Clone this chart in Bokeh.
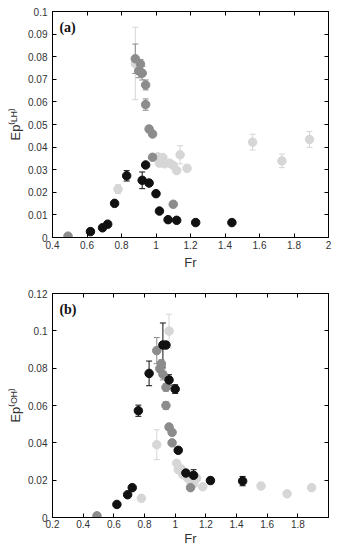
from bokeh.plotting import figure
from bokeh.models import (ColumnDataSource, Whisker, TeeHead, LinearAxis, FixedTicker,
                          Label, CustomLabelingPolicy)
from bokeh.layouts import column
from bokeh.embed import file_html
from bokeh.resources import INLINE

# ---- Panel (a): Ep(LH) against Froude number ----
a_black_x = [0.62, 0.69, 0.72, 0.76, 0.83, 0.92, 0.94, 0.96, 1.00, 1.02, 1.07, 1.12, 1.23, 1.44]
a_black_y = [0.0026, 0.0043, 0.0059, 0.0151, 0.0273, 0.0253, 0.0321, 0.0241, 0.0194, 0.0117, 0.0079, 0.0076, 0.0066, 0.0066]
a_black_e = [0.0003, 0.0004, 0.0004, 0.0006, 0.0023, 0.0037, 0.0008, 0.0006, 0.0005, 0.0004, 0.0003, 0.0003, 0.0003, 0.0004]

a_dark_x = [0.49, 0.88, 0.90, 0.91, 0.92, 0.94, 0.94, 0.96, 0.98, 0.98, 1.10]
a_dark_y = [0.0006, 0.0791, 0.0737, 0.0768, 0.0727, 0.0675, 0.0588, 0.0480, 0.0458, 0.0355, 0.0147]
a_dark_e = [0.0003, 0.0065, 0.0030, 0.0020, 0.0030, 0.0022, 0.0025, 0.0015, 0.0012, 0.0010, 0.0005]

a_light_x = [0.78, 0.88, 1.01, 1.02, 1.04, 1.05, 1.08, 1.10, 1.12, 1.14, 1.18, 1.56, 1.73, 1.89]
a_light_y = [0.0214, 0.0770, 0.0357, 0.0329, 0.0354, 0.0326, 0.0329, 0.0319, 0.0296, 0.0366, 0.0306, 0.0422, 0.0339, 0.0434]
a_light_e = [0.0020, 0.0160, 0.0008, 0.0008, 0.0008, 0.0006, 0.0006, 0.0006, 0.0006, 0.0040, 0.0015, 0.0035, 0.0030, 0.0035]

a_xticks = [0.4, 0.6, 0.8, 1.0, 1.2, 1.4, 1.6, 1.8, 2.0]
a_xlabels = ["0.4", "0.6", "0.8", "1", "1.2", "1.4", "1.6", "1.8", "2"]
a_yticks = [0.0, 0.01, 0.02, 0.03, 0.04, 0.05, 0.06, 0.07, 0.08, 0.09, 0.1]
a_ylabels = ["0", "0.01", "0.02", "0.03", "0.04", "0.05", "0.06", "0.07", "0.08", "0.09", "0.1"]

# ---- Panel (b): Ep(OH) against Froude number ----
b_black_x = [0.62, 0.69, 0.72, 0.76, 0.83, 0.92, 0.94, 0.96, 1.00, 1.02, 1.07, 1.12, 1.23, 1.44]
b_black_y = [0.0070, 0.0122, 0.0160, 0.0572, 0.0772, 0.0924, 0.0924, 0.0737, 0.0688, 0.0360, 0.0238, 0.0226, 0.0198, 0.0195]
b_black_e = [0.0006, 0.0008, 0.0015, 0.0030, 0.0066, 0.0118, 0.0010, 0.0028, 0.0023, 0.0012, 0.0008, 0.0030, 0.0017, 0.0025]

b_dark_x = [0.49, 0.88, 0.90, 0.91, 0.92, 0.94, 0.94, 0.96, 0.98, 0.98, 1.10]
b_dark_y = [0.0009, 0.0894, 0.0798, 0.0824, 0.0767, 0.0697, 0.0600, 0.0485, 0.0456, 0.0400, 0.0160]
b_dark_e = [0.0003, 0.0070, 0.0020, 0.0020, 0.0030, 0.0020, 0.0020, 0.0010, 0.0010, 0.0010, 0.0006]

b_light_x = [0.78, 0.88, 0.96, 1.01, 1.02, 1.04, 1.05, 1.08, 1.10, 1.12, 1.14, 1.18, 1.56, 1.73, 1.89]
b_light_y = [0.0103, 0.0390, 0.0999, 0.0290, 0.0256, 0.0260, 0.0230, 0.0212, 0.0195, 0.0180, 0.0210, 0.0165, 0.0169, 0.0127, 0.0160]
b_light_e = [0.0008, 0.0080, 0.0090, 0.0010, 0.0010, 0.0010, 0.0010, 0.0010, 0.0010, 0.0010, 0.0015, 0.0010, 0.0010, 0.0008, 0.0008]

b_xticks = [0.2, 0.4, 0.6, 0.8, 1.0, 1.2, 1.4, 1.6, 1.8]
b_xlabels = ["0.2", "0.4", "0.6", "0.8", "1", "1.2", "1.4", "1.6", "1.8"]
b_yticks = [0.0, 0.02, 0.04, 0.06, 0.08, 0.1, 0.12]
b_ylabels = ["0", "0.02", "0.04", "0.06", "0.08", "0.1", "0.12"]

SANS = "Liberation Sans"
SERIF = "Liberation Serif"
BLACK = "#111111"
DARK = "#8c8c8c"
LIGHT = "#d6d6d6"

# the mirrored top/right axes carry tick marks only
NO_LABELS = "return new Set()"


def style_axis(ax, ticks, labels, show_labels, label_standoff=3):
    ax.ticker = FixedTicker(ticks=ticks)
    ax.major_tick_in = 4
    ax.major_tick_out = 0
    ax.minor_tick_line_color = None
    ax.axis_line_color = "black"
    ax.major_tick_line_color = "black"
    ax.major_label_text_font = SANS
    ax.major_label_text_color = "#333333"
    ax.major_label_text_font_size = "10px"
    ax.axis_label_text_font = SANS
    ax.axis_label_text_font_style = "normal"
    ax.axis_label_text_color = "#333333"
    ax.axis_label_text_font_size = "13px"
    if show_labels:
        ax.major_label_overrides = dict(zip(ticks, labels))
        ax.major_label_standoff = label_standoff
    else:
        ax.major_label_policy = CustomLabelingPolicy(code=NO_LABELS)
        ax.major_label_standoff = 0


def add_series(p, xs, ys, es, color):
    src = ColumnDataSource(dict(x=xs, y=ys,
                                lo=[y - e for y, e in zip(ys, es)],
                                hi=[y + e for y, e in zip(ys, es)]))
    w = Whisker(base="x", lower="lo", upper="hi", source=src,
                line_color=color, line_width=1,
                upper_head=TeeHead(size=6, line_color=color, line_width=1),
                lower_head=TeeHead(size=6, line_color=color, line_width=1))
    p.add_layout(w)
    p.scatter("x", "y", source=src, size=8.5, fill_color=color, line_color=color)


def make_panel(height, xr, yr, top, bottom, xticks, xlabels, yticks, ylabels,
               ylabel, tag, tag_xy, series, x_standoff, xlab_standoff):
    p = figure(width=350, height=height, x_range=xr, y_range=yr,
               output_backend="svg", toolbar_location=None,
               min_border_left=52, min_border_right=5,
               min_border_top=top, min_border_bottom=bottom)
    p.grid.visible = False
    p.outline_line_color = "black"
    p.outline_line_width = 1
    p.background_fill_color = "white"
    p.border_fill_color = "white"

    style_axis(p.xaxis[0], xticks, xlabels, True, x_standoff)
    style_axis(p.yaxis[0], yticks, ylabels, True, 5)
    p.xaxis[0].axis_label = "Fr"
    p.xaxis[0].axis_label_standoff = xlab_standoff
    p.yaxis[0].axis_label = ylabel
    p.yaxis[0].axis_label_standoff = 2

    top_ax = LinearAxis()
    style_axis(top_ax, xticks, xlabels, False)
    p.add_layout(top_ax, "above")
    right_ax = LinearAxis()
    style_axis(right_ax, yticks, ylabels, False)
    p.add_layout(right_ax, "right")

    for xs, ys, es, color in series:
        add_series(p, xs, ys, es, color)

    p.add_layout(Label(x=tag_xy[0], y=tag_xy[1], text=tag, text_font=SERIF,
                       text_font_style="bold", text_font_size="14px",
                       text_color="#111111", text_baseline="top"))
    return p


pa = make_panel(273, (0.4, 2.0), (0.0, 0.1), 7, 36,
                a_xticks, a_xlabels, a_yticks, a_ylabels,
                "Ep\u207d\u1d38\u1d34\u207e", "(a)", (0.44, 0.0962),
                [(a_light_x, a_light_y, a_light_e, LIGHT),
                 (a_dark_x, a_dark_y, a_dark_e, DARK),
                 (a_black_x, a_black_y, a_black_e, BLACK)],
                3, 3)

pb = make_panel(275, (0.2, 2.0), (0.0, 0.12), 20, 26,
                b_xticks, b_xlabels, b_yticks, b_ylabels,
                "Ep\u207d\u1d3c\u1d34\u207e", "(b)", (0.245, 0.1155),
                [(b_light_x, b_light_y, b_light_e, LIGHT),
                 (b_dark_x, b_dark_y, b_dark_e, DARK),
                 (b_black_x, b_black_y, b_black_e, BLACK)],
                2, 0)

layout = column(pa, pb, spacing=0)
open("out.html", "w").write(file_html(layout, INLINE))
